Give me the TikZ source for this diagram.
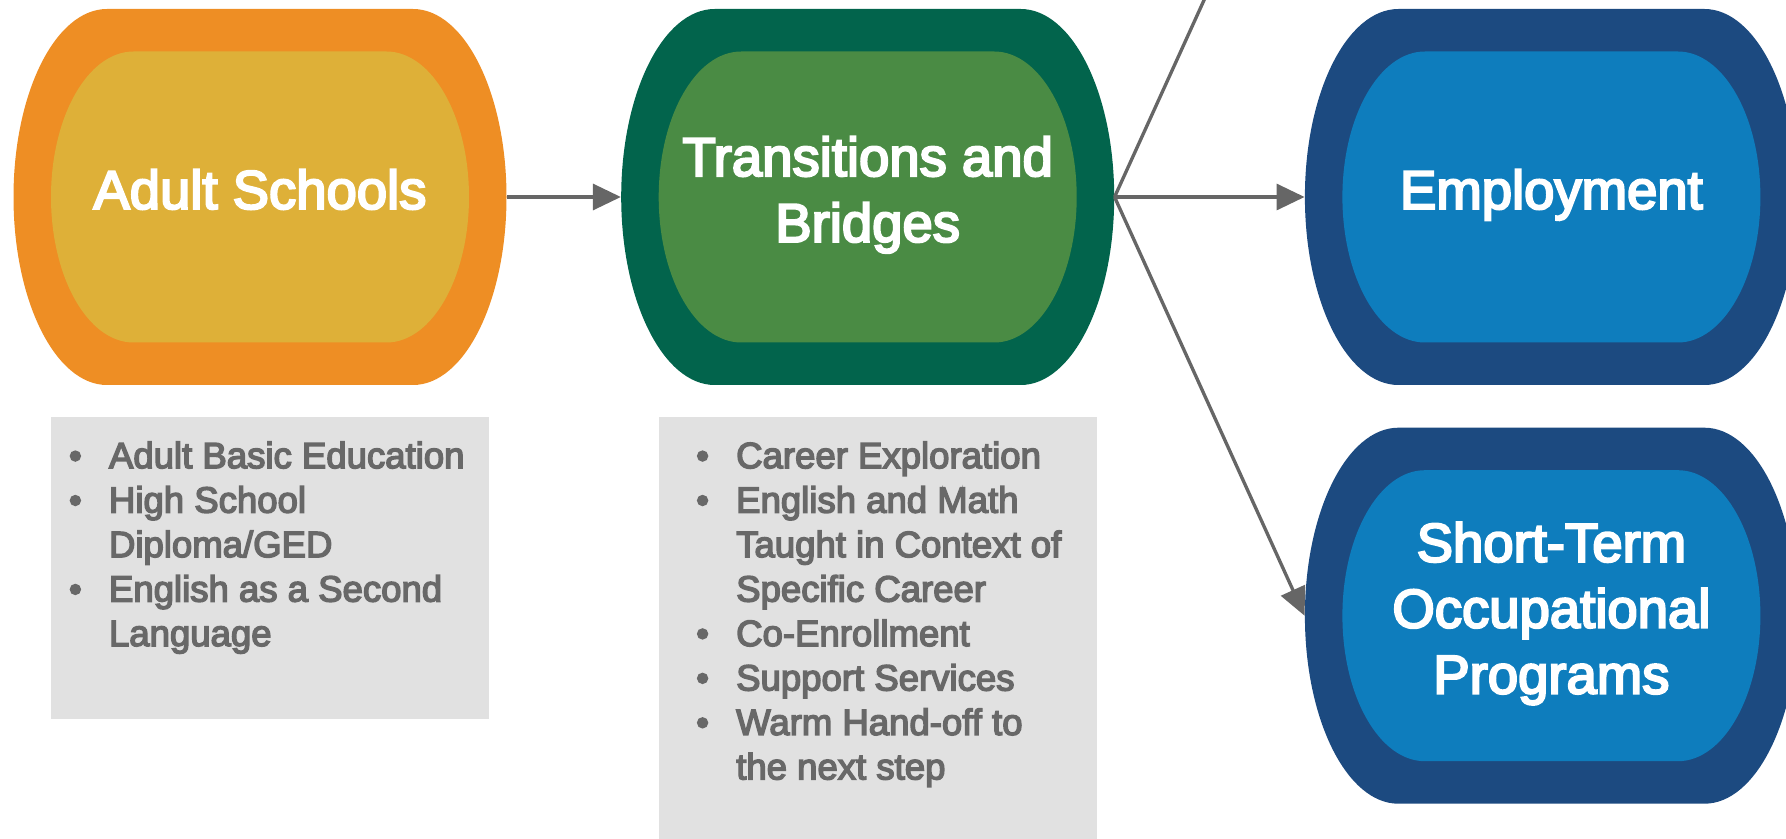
\documentclass[tikz,border=0pt]{standalone}
\usepackage{fontspec}
\setmainfont{Liberation Sans}
\newfontfamily\heavyfont{Liberation Sans}[FakeBold=4]
\usetikzlibrary{arrows.meta,positioning,calc}

\definecolor{rimorange}{RGB}{238,142,36}
\definecolor{faceorange}{RGB}{222,176,56}
\definecolor{rimgreen}{RGB}{2,100,76}
\definecolor{facegreen}{RGB}{74,139,68}
\definecolor{rimblue}{RGB}{28,74,128}
\definecolor{faceblue}{RGB}{14,125,189}
\definecolor{boxgray}{RGB}{225,225,225}
\definecolor{listgray}{RGB}{104,104,104}
\definecolor{linkgray}{RGB}{102,102,102}

% rim and face of one stage, drawn round a stage node
\newcommand{\capsule}[3]{%
  \fill[#2] ($(#1)+(-3.06,3.76)$) -- ++(6.12,0)
    arc[start angle=90,end angle=-90,x radius=1.87,y radius=3.76] -- ++(-6.12,0)
    arc[start angle=270,end angle=90,x radius=1.87,y radius=3.76] -- cycle;
  \fill[#3] ($(#1)+(-2.53,2.91)$) -- ++(5.06,0)
    arc[start angle=90,end angle=-90,x radius=1.65,y radius=2.91] -- ++(-5.06,0)
    arc[start angle=270,end angle=90,x radius=1.65,y radius=2.91] -- cycle;}
\newcommand{\itembul}{\makebox[0.8cm][l]{\textbullet}}

\begin{document}
\begin{tikzpicture}[>={Triangle[length=0.56cm,width=0.52cm]},
  stage node/.style={rectangle,minimum width=9.86cm,minimum height=7.52cm,inner sep=0pt},
  title node/.style={text=white,align=center,inner sep=0pt,text depth=0.21em,yshift=0.12cm,
    font=\heavyfont\fontsize{31}{37.5}\selectfont},
  info node/.style={rectangle,fill=boxgray,minimum width=8.76cm,inner sep=0pt},
  list node/.style={text=listgray,align=left,inner sep=0pt,
    font=\heavyfont\fontsize{20.8}{25.3}\selectfont},
  link/.style={color=linkgray,line width=1.9pt}]

  \useasboundingbox (0,0) rectangle (35.72,-16.78);
  \clip (0,0) rectangle (35.72,-16.78);

  \node[stage node] (adult) at (5.2,-3.94) {};
  \node[stage node] (bridge) [right=2.28cm of adult] {};
  \node[stage node] (job) [right=3.8cm of bridge] {};
  \node[stage node] (short) [below=0.84cm of job] {};
  \coordinate (next) at ($(job.west)+(0,8.36)$);

  \capsule{adult}{rimorange}{faceorange}
  \capsule{bridge}{rimgreen}{facegreen}
  \capsule{job}{rimblue}{faceblue}
  \capsule{short}{rimblue}{faceblue}

  \node[title node] (adultname) at (adult) {Adult Schools};
  \node[title node] (bridgename) at (bridge) {Transitions and\\Bridges};
  \node[title node] (jobname) at (job) {Employment};
  \node[title node] (shortname) at (short) {Short-Term\\Occupational\\Programs};

  \node[info node,minimum height=6.04cm] (adultlist)
    [below right=0.62cm and 0.75cm of adult.south west] {};
  \node[info node,minimum height=8.5cm] (bridgelist)
    [below right=0.62cm and 0.75cm of bridge.south west] {};

  \node[list node] (adultitems) [below right=0.5cm and 0.36cm of adultlist.north west]
    {\itembul Adult Basic Education\\
     \itembul High School\\
     \hspace*{0.8cm}Diploma/GED\\
     \itembul English as a Second\\
     \hspace*{0.8cm}Language};
  \node[list node] (bridgeitems) [below right=0.5cm and 0.75cm of bridgelist.north west]
    {\itembul Career Exploration\\
     \itembul English and Math\\
     \hspace*{0.8cm}Taught in Context of\\
     \hspace*{0.8cm}Specific Career\\
     \itembul Co-Enrollment\\
     \itembul Support Services\\
     \itembul Warm Hand-off to\\
     \hspace*{0.8cm}the next step};

  \path[every edge/.style={draw,->,link}]
    (adult) edge (bridge)
    (bridge) edge (job)
    (bridge.east) edge (short.west)
    (bridge.east) edge (next);

\end{tikzpicture}
\end{document}
